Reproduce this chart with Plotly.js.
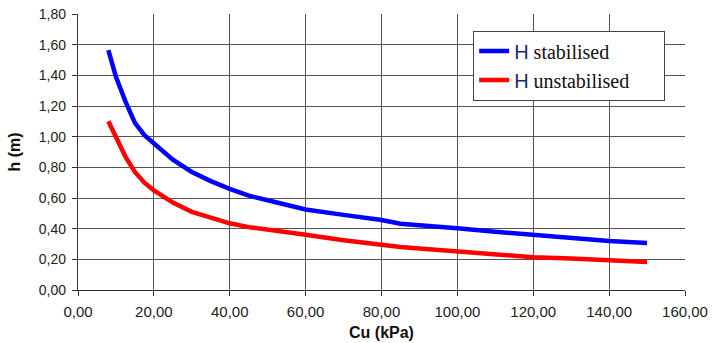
<!DOCTYPE html>
<html><head><meta charset="utf-8">
<script src="https://cdn.plot.ly/plotly-3.0.1.min.js"></script>
<style>body{margin:0;background:#fff}#c{width:712px;height:343px}</style>
</head><body><div id="c"></div>
<script>
const cu = [8, 10, 12.5, 15, 17.5, 20, 25, 30, 35, 40, 45, 50, 60, 70, 80, 85, 90, 100, 110, 120, 130, 140, 150];
const hStab = [1.565, 1.39, 1.23, 1.09, 1.01, 0.955, 0.85, 0.77, 0.71, 0.66, 0.615, 0.585, 0.525, 0.49, 0.457, 0.432, 0.42, 0.402, 0.38, 0.36, 0.333, 0.32, 0.307];
const hUnstab = [1.10, 0.99, 0.87, 0.77, 0.70, 0.65, 0.57, 0.51, 0.47, 0.435, 0.41, 0.395, 0.36, 0.325, 0.292, 0.28, 0.27, 0.25, 0.23, 0.214, 0.205, 0.196, 0.183];
const names = ["<span style='font-family:Liberation Sans;color:#1c2a6b'>H</span> stabilised",
               "<span style='font-family:Liberation Sans;color:#1c2a6b'>H</span> unstabilised&nbsp;&nbsp;&nbsp;&nbsp;&nbsp;&nbsp;"];

const traces = [
  {x: cu, y: hStab, name: names[0], mode: 'lines', line: {color: '#0000ff', width: 4.5}},
  {x: cu, y: hUnstab, name: names[1], mode: 'lines', line: {color: '#ff0000', width: 4.5}}
];
const sans = 'Liberation Sans, Arial, sans-serif';
const layout = {
  width: 712, height: 343,
  margin: {l: 78, r: 27, t: 14, b: 53},
  paper_bgcolor: '#fff', plot_bgcolor: '#fff',
  separators: ',.',
  showlegend: true,
  legend: {x: 0.651, y: 0.94, xanchor: 'left', yanchor: 'top',
    bordercolor: '#444', borderwidth: 1, bgcolor: '#fff',
    font: {family: 'Liberation Serif, Times New Roman, serif', size: 20, color: '#111'}},
  xaxis: {range: [0, 160], dtick: 20, tick0: 0, tickformat: '.2f',
    showgrid: true, gridcolor: '#555', gridwidth: 1,
    showline: true, linecolor: '#333', linewidth: 1.2,
    ticks: 'outside', ticklen: 5, tickcolor: '#333', ticklabelstandoff: 3,
    tickfont: {family: sans, size: 15, color: '#222'}, zeroline: false,
    title: {text: '<b>Cu (kPa)</b>', font: {family: sans, size: 16, color: '#111'}, standoff: 7}},
  yaxis: {range: [0, 1.8], dtick: 0.2, tick0: 0, tickformat: '.2f',
    showgrid: true, gridcolor: '#555', gridwidth: 1,
    showline: true, linecolor: '#333', linewidth: 1.2,
    ticks: 'outside', ticklen: 5, tickcolor: '#333', ticklabelstandoff: 3,
    tickfont: {family: sans, size: 14, color: '#222'}, zeroline: false,
    title: {text: '<b>h (m)</b>', font: {family: sans, size: 16, color: '#111'}, standoff: 14}}
};
Plotly.newPlot('c', traces, layout, {displayModeBar: false, staticPlot: true});
</script></body></html>
